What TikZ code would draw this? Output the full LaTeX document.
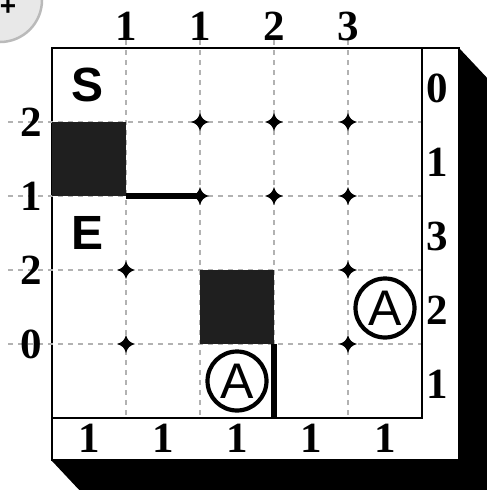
\documentclass[tikz,border=0pt]{standalone}
\usepackage{fontspec}
\setmainfont{Liberation Serif}
\setsansfont{Liberation Sans}

\begin{document}
\begin{tikzpicture}[x=1pt, y=-1pt,
    gridline/.style={draw=black!30, line width=2.6pt, dash pattern=on 5pt off 5pt},
    clue/.style={font=\fontsize{43}{43}\selectfont\bfseries, inner sep=0pt},
    letter/.style={font=\sffamily\bfseries\fontsize{48}{48}\selectfont, inner sep=0pt},
    ring/.style={circle, draw=black, line width=4.2pt, minimum size=59pt, inner sep=0pt,
                 font=\sffamily\fontsize{50}{50}\selectfont},
    knot/.style={fill=black},
    wall/.style={line width=5.5pt},
    block/.style={fill=black!88}]

\clip (0,0) rectangle (487,490);

% add button in the corner
\node[circle, fill=black!9, draw=black!27, line width=2.5pt, minimum size=84pt] (addbtn) at (0,0) {};
\node[font=\sffamily\bfseries\fontsize{28}{28}\selectfont, inner sep=0pt] (plus) at (8,7) {+};

% shadow and panel
\fill[black] (52,48) -- (459,48) -- (490,81) -- (490,494) -- (83,494) -- (52,461) -- cycle;
\filldraw[fill=white, draw=black, line width=2.5pt] (52,48) rectangle (459,460);

% grid
\foreach \x in {126,200,274,348}
  \draw[gridline] (\x,40) -- (\x,418);
\foreach \y in {122,196,270,344}
  \draw[gridline] (8,\y) -- (422,\y);

\fill[block] (52,122) rectangle (126,196);
\fill[block] (200,270) rectangle (274,344);

\draw[line width=2.5pt] (52,418) -- (422,418) -- (422,48);

% walls
\draw[wall] (126,196) -- (200,196);
\draw[wall] (274,344) -- (274,418);

% crossings
\foreach \x/\y in {200/122,274/122,348/122,200/196,274/196,348/196,
                   126/270,348/270,126/344,348/344}
  \fill[knot, shift={(\x,\y)}] (0,-9) .. controls (1.8,-3.4) and (3.4,-1.8) .. (9,0)
     .. controls (3.4,1.8) and (1.8,3.4) .. (0,9)
     .. controls (-1.8,3.4) and (-3.4,1.8) .. (-9,0)
     .. controls (-3.4,-1.8) and (-1.8,-3.4) .. cycle;

% clues
\foreach \v/\x [count=\k] in {1/126,1/200,2/274,3/348}
  \node[clue] (top\k) at (\x,26) {\v};
\foreach \v/\y [count=\k] in {2/122,1/196,2/270,0/344}
  \node[clue] (left\k) at (31,\y) {\v};
\foreach \v/\y [count=\k] in {0/88,1/162,3/236,2/310,1/384}
  \node[clue] (right\k) at (437,\y) {\v};
\foreach \v/\x [count=\k] in {1/89,1/163,1/237,1/311,1/385}
  \node[clue] (bottom\k) at (\x,438) {\v};

% cells
\node[letter] (start) at (88,85) {S};
\node[letter] (end) at (88,233) {E};
\node[ring] (ringa) at (237,381) {A};
\node[ring] (ringb) at (385,308) {A};
\end{tikzpicture}
\end{document}
